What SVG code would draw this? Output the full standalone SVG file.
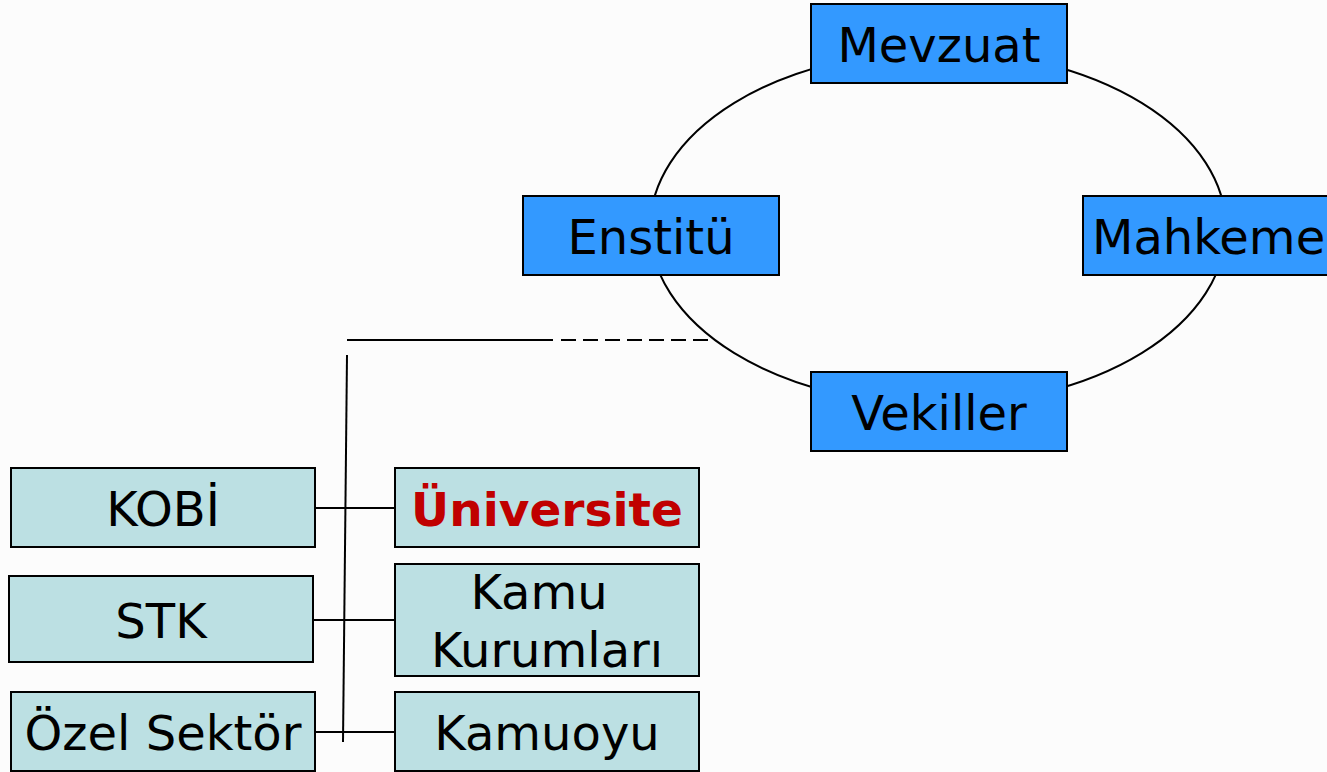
<svg xmlns="http://www.w3.org/2000/svg" width="1327" height="772" viewBox="0 0 1327 772">
<style>
.blue{fill:#3399FF;stroke:#000;stroke-width:2}
.teal{fill:#BCE0E3;stroke:#000;stroke-width:2}
.t{font-family:"DejaVu Sans",Verdana,sans-serif;font-size:48px;fill:#000;text-anchor:middle}
.red{fill:#C00000;font-weight:bold;font-size:47px}
.ln{stroke:#000;stroke-width:2;fill:none}
</style>
<rect width="1327" height="772" fill="#FCFCFC"/>
<g id="connectors">
<ellipse class="ln" cx="938" cy="228" rx="288" ry="177"/>
<line class="ln" x1="347" y1="340" x2="553" y2="340"/>
<line class="ln" x1="561" y1="340" x2="710" y2="340" stroke-dasharray="15 7"/>
<line class="ln" x1="347" y1="355" x2="343" y2="742"/>
<line class="ln" x1="315" y1="508" x2="395" y2="508"/>
<line class="ln" x1="313" y1="620" x2="395" y2="620"/>
<line class="ln" x1="315" y1="732" x2="395" y2="732"/>
</g>
<g id="mevzuat"><rect class="blue" x="811" y="4" width="256" height="79"/><text class="t" x="939" y="62">Mevzuat</text></g>
<g id="enstitu"><rect class="blue" x="523" y="196" width="256" height="79"/><text class="t" x="651" y="254">Enstitü</text></g>
<g id="mahkeme"><rect class="blue" x="1083" y="196" width="256" height="79"/><text class="t" x="1092" y="254" style="text-anchor:start">Mahkeme</text></g>
<g id="vekiller"><rect class="blue" x="811" y="372" width="256" height="79"/><text class="t" x="939" y="430">Vekiller</text></g>
<g id="kobi"><rect class="teal" x="11" y="468" width="304" height="79"/><text class="t" x="163" y="526">KOBİ</text></g>
<g id="stk"><rect class="teal" x="9" y="576" width="304" height="86"/><text class="t" x="161" y="638">STK</text></g>
<g id="ozel"><rect class="teal" x="11" y="692" width="304" height="79"/><text class="t" x="163" y="750">Özel Sektör</text></g>
<g id="universite"><rect class="teal" x="395" y="468" width="304" height="79"/><text class="t red" x="547" y="526">Üniversite</text></g>
<g id="kamu"><rect class="teal" x="395" y="564" width="304" height="112"/><text class="t" x="539" y="609">Kamu</text><text class="t" x="547" y="667">Kurumları</text></g>
<g id="kamuoyu"><rect class="teal" x="395" y="692" width="304" height="79"/><text class="t" x="547" y="750">Kamuoyu</text></g>
</svg>
